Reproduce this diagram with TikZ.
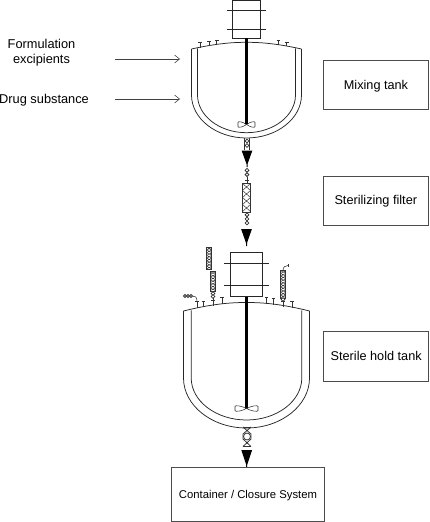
\documentclass[tikz,border=0pt]{standalone}
\usepackage{fontspec}
\setmainfont{Liberation Sans}
\usetikzlibrary{arrows.meta}
\tikzset{
  wall/.style={draw=black!85,line width=0.75pt},
  thin part/.style={draw=black!80,line width=0.55pt},
  labelbox/.style={draw=black!70,line width=0.8pt,inner sep=0pt},
  labeltext/.style={font=\fontsize{12.7}{15}\selectfont,inner sep=0pt,anchor=base},
  plaintext/.style={font=\fontsize{12.8}{15}\selectfont,inner sep=0pt,anchor=base},
  feed/.style={draw=black!75,line width=0.55pt,-{Straight Barb[length=5pt,width=8pt]}},
  shaft/.style={draw=black,line width=3pt}
}
% tank: #1 center x, #2 lid eave y, #3 lid top y, #4 half outer, #5 half inner, #6 straight end y, #7 outer bottom y, #8 inner bottom y
\newcommand{\tanksketch}[8]{%
  \draw[wall] (#1-#4,#2) .. controls (#1-#4*0.5,#3+0.6) and (#1-#4*0.2,#3) .. (#1,#3) .. controls (#1+#4*0.2,#3) and (#1+#4*0.5,#3+0.6) .. (#1+#4,#2);
  \draw[wall] (#1-#4,#2) -- (#1-#4,#6) .. controls (#1-#4,#6+0.55*#7-0.55*#6) and (#1-#4*0.55,#7) .. (#1,#7) .. controls (#1+#4*0.55,#7) and (#1+#4,#6+0.55*#7-0.55*#6) .. (#1+#4,#6) -- (#1+#4,#2);
  \draw[wall] (#1-#5,#2-0.6) -- (#1-#5,#6) .. controls (#1-#5,#6+0.55*#8-0.55*#6) and (#1-#5*0.55,#8) .. (#1,#8) .. controls (#1+#5*0.55,#8) and (#1+#5,#6+0.55*#8-0.55*#6) .. (#1+#5,#6) -- (#1+#5,#2-0.6);
}
\newcommand{\stubT}[3]{\draw[thin part] (#1,#2) -- (#1,#3) (#1-1.8,#3) -- (#1+1.8,#3);}
\newcommand{\blade}[3]{\draw[thin part,fill=white] (#1,#2) .. controls (#1-#3*0.5,#2-3) and (#1-#3,#2-3.5) .. (#1-#3,#2-2) -- (#1-#3,#2+2) .. controls (#1-#3,#2+3.5) and (#1-#3*0.5,#2+3) .. (#1,#2) .. controls (#1+#3*0.5,#2-3) and (#1+#3,#2-3.5) .. (#1+#3,#2-2) -- (#1+#3,#2+2) .. controls (#1+#3,#2+3.5) and (#1+#3*0.5,#2+3) .. (#1,#2);}
\newcommand{\beads}[2]{\foreach \yy in {#2} {\draw[thin part,line width=0.8pt,fill=white] (#1,\yy) circle (1.9);}}
\newcommand{\headdown}[3]{\fill[black] (#1-5.4,#2) -- (#1+5.4,#2) -- (#1+0.5,#3-3) -- (#1+0.5,#3) -- (#1-0.5,#3) -- (#1-0.5,#3-3) -- cycle;}
% zigzag-filled rectangle: left, right, top, bottom, pitch
\newcommand{\meshrect}[5]{%
  \begin{scope}
  \clip (#1,#3) rectangle (#2,#4);
  \foreach \k in {0,...,30} {
    \pgfmathsetmacro{\ya}{#3+\k*#5}
    \pgfmathsetmacro{\yb}{#3+(\k+1)*#5}
    \ifdim \ya pt<#4pt
      \draw[thin part,line width=0.5pt] (#1,\ya) -- (#2,\yb) (#2,\ya) -- (#1,\yb);
    \fi
  }
  \end{scope}
  \draw[thin part,line width=0.7pt] (#1,#3) rectangle (#2,#4);
}
\begin{document}
\begin{tikzpicture}[x=1pt,y=-1pt]
\useasboundingbox (0,0) rectangle (430,522);
% ---- mixing tank
\draw[wall] (232.7,0.5) rectangle (260,38);
\draw[wall] (227,10) -- (266,10) (227,29) -- (266,29);
\tanksketch{246.5}{49}{42.3}{55}{49}{95}{138}{132.7}
\stubT{200}{47.6}{42.7}
\stubT{209}{46}{41.3}
\stubT{216.7}{45}{40.3}
\stubT{278.3}{45}{40.7}
\stubT{286.7}{46.4}{42.5}
\blade{246.5}{124.5}{8.5}
\draw[shaft] (246.5,38) -- (246.5,124);
\draw[thin part] (244.5,138) -- (244.5,149.5) (249.5,138) -- (249.5,149.5);
\beads{247}{141,145.5}
\headdown{247}{150.5}{167}
\beads{247}{170.3,174.6}
\draw[thin part] (247,176.5) -- (247,183.5) (245,180) -- (249,180);
\meshrect{242.5}{250.5}{183.5}{212}{7}
\beads{247}{214.8,219,223}
\headdown{246.5}{229}{246}
% ---- hold tank
\draw[wall] (230.7,252.3) rectangle (262,296.7);
\draw[wall] (224,263.5) -- (269,263.5) (224,285.5) -- (269,285.5);
\tanksketch{246.5}{311}{302.5}{63}{55.3}{378}{428}{420}
\stubT{197}{308}{301}
\stubT{203.4}{307}{301}
\stubT{222}{304}{297.5}
\stubT{266.5}{304}{297}
\stubT{273.3}{305}{298}
\stubT{292}{308}{301.5}
\draw[shaft] (246.5,296.7) -- (246.5,408);
\blade{246.5}{408.5}{11.5}
% attachments
\meshrect{206.7}{211.7}{247.3}{269.3}{2.7}
\meshrect{210.2}{215.7}{271.7}{291.7}{2.7}
\draw[thin part] (213,291.7) -- (213,306);
\beads{213}{293.5,296.5}
\meshrect{280.7}{285.7}{270.7}{298}{2.7}
\draw[thin part] (283,298) -- (283,306.5);
\beads{283}{299.5}
\stubT{213}{306}{300.5}
\stubT{283}{306.5}{301.5}
\draw[thin part] (283,270.7) .. controls (283,267) and (285,265.5) .. (288,265.5);
\draw[thin part] (288.3,263.8) -- (288.3,267.2);
\foreach \x in {185,188,191} {\draw[thin part,line width=0.8pt,fill=white] (\x,296) circle (1.5);}
\draw[thin part] (192.5,296) .. controls (195,296) and (197,297) .. (197,301);
% bottom valve
\draw[thin part,line width=0.8pt] (243,427) -- (251,434) -- (251,439) -- (243,446.5) (251,427) -- (243,434) -- (243,439) -- (251,446.5);
\draw[thin part,line width=0.8pt,fill=white] (247,436.5) circle (3.5);
\draw[thin part,line width=0.8pt] (243,427) -- (251,427) (243,446.5) -- (251,446.5);
\headdown{246.7}{450}{467.7}
% ---- boxes
\draw[labelbox] (323.5,60.7) rectangle (428,109);
\draw[labelbox] (323.5,176) rectangle (428,225.7);
\draw[labelbox] (323.5,331.7) rectangle (428,381);
\draw[labelbox] (171.7,467.7) rectangle (324.7,521);
\node[labeltext] (mix) at (376,89) {Mixing tank};
\node[labeltext] (filt) at (375.8,204) {Sterilizing filter};
\node[labeltext] (hold) at (376.2,360.7) {Sterile hold tank};
\node[labeltext,font=\fontsize{11.3}{13}\selectfont] (cont) at (248,498) {Container / Closure System};
% ---- feeds
\node[plaintext] (form) at (41.5,48.3) {Formulation};
\node[plaintext] (exc) at (41.5,63.3) {excipients};
\node[plaintext,anchor=base west] (drug) at (-1,103.3) {Drug substance};
\coordinate (f1) at (115,59); \coordinate (f1e) at (180,59);
\coordinate (f2) at (115,99); \coordinate (f2e) at (180,99);
\draw[feed] (f1) -- (f1e);
\draw[feed] (f2) -- (f2e);
\end{tikzpicture}
\end{document}
